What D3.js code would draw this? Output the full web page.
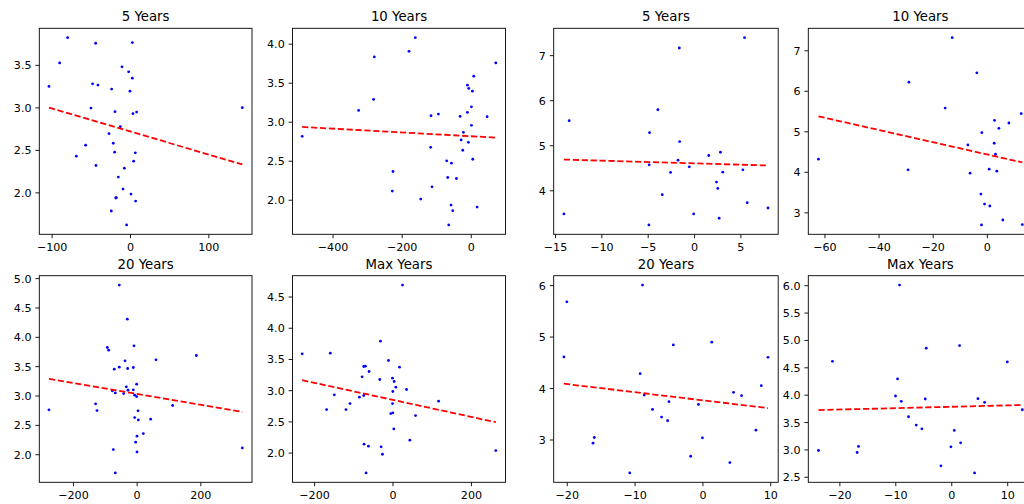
<!DOCTYPE html>
<html><head><meta charset="utf-8">
<script src="https://cdn.jsdelivr.net/npm/d3@7"></script>
<style>body{margin:0;background:#fff;overflow:hidden} svg{display:block;font-family:"DejaVu Sans",sans-serif}</style>
</head><body>
<svg id="c" width="1024" height="504"></svg>
<script>
// ---------- data ----------
const titles = ["5 Years","10 Years","5 Years","10 Years","20 Years","Max Years","20 Years","Max Years"];

const xA5 = [-103.4,-89.8,-79.6,-43.8,3.0,-10.2,-1.7,3.0,-47.7,-40.9,-23.4,0,-49.8,-19.1,3.8,8.5,143.4,-12.3,-26.8,-56.6,-21.3,-19.6,-68.5,6.8,4.7,-43.4,-7.2,-14.9,-8.9,-17.4,-18.2,1.3,7.2,-23.8,-4.3];
const yA5 = [3.246,3.523,3.82,3.754,3.762,3.477,3.418,3.344,3.277,3.262,3.215,3.191,2.992,2.949,2.926,2.945,2.996,2.773,2.691,2.555,2.578,2.473,2.426,2.465,2.367,2.316,2.285,2.18,2.039,1.938,1.934,1.98,1.898,1.781,1.617];

const xA10 = [-487.9,-324.6,-279.2,-281.2,-178.7,-160.4,-225.1,-227.1,-144.9,-115,-93.7,-116,-112.1,-69.6,-56,-66.7,-41.5,-57,-52.2,-63.8,-30.9,-9.7,-5.8,4.8,8.7,1.9,-9.7,1.9,-21.3,-28,-6.8,-23.2,5.8,18.4,47.3,72.5];
const yA10 = [2.813,3.145,3.83,3.285,3.902,4.077,2.362,2.111,2.009,3.077,3.098,2.672,2.166,2.498,2.468,2.285,2.272,1.932,1.86,1.677,3.068,3.468,3.426,3.391,3.583,3.191,3.119,2.953,2.864,2.766,2.736,2.634,2.519,1.906,3.064,3.753];

const xB5 = [-14.04,-13.47,-4.8,-3.9,-1.59,5.45,-1.55,-4.84,-1.73,-0.51,-2.53,-3.43,-4.87,-0.04,1.59,2.85,3.1,2.42,2.56,2.71,5.27,5.74,7.98];
const yB5 = [3.475,5.545,5.28,5.788,7.159,7.388,5.081,4.565,4.668,4.521,4.396,3.902,3.231,3.475,4.772,4.845,4.403,4.182,4.042,3.379,4.455,3.725,3.607];

const xB10 = [-62.2,-28.8,-29.1,-12.8,-15.4,-3.7,-7.0,-6.2,-1.85,2.84,4.44,2.72,3.2,0.86,3.7,8.15,12.7,-2.2,-0.86,1.1,5.9,-1.98,13.1];
const yB10 = [4.311,6.213,4.049,7.311,5.574,6.443,4.664,3.967,4.967,5.27,5.074,4.705,4.434,4.066,4.016,5.205,5.434,3.451,3.205,3.156,2.811,2.689,2.697];

const xA20 = [-275.4,-54.5,-29.3,-92.1,-88,-8.4,-36.6,-54.5,-70.2,-28.3,-10.5,60.7,187.4,-32.5,-27.2,-10.5,-76.4,-67,-40.8,0,-6.3,0,-128.8,-124.6,113.1,4.2,-6.3,5.2,44,20.9,1,-3.1,1,-73.3,-67,331.9];
const yA20 = [2.756,4.881,4.301,3.818,3.773,3.847,3.591,3.483,3.449,3.46,3.477,3.608,3.682,3.148,3.091,3.097,3.08,3.045,3.034,3.193,3.006,2.983,2.858,2.744,2.83,2.739,2.625,2.585,2.597,2.352,2.307,2.205,2.04,2.08,1.682,2.108];

const xAMax = [-230.3,-158.6,-148.4,-168,-118.6,-108.3,-84.4,-73.3,-77.6,-73.3,-69.1,-59.7,-30.7,-32.4,-10.2,17.9,0,4.3,8.5,0.9,35.8,0,-4.3,0.9,3.4,58.8,117.7,25.6,44.3,-72.5,-61.4,-29,-25.6,-67.4,263.5];
const yAMax = [3.582,3.593,2.925,2.69,2.69,2.786,2.888,2.915,3.214,3.379,3.385,3.299,3.785,3.171,3.475,3.369,3.192,3.139,3.048,2.979,3.011,2.786,2.626,2.637,2.38,2.594,2.824,4.683,2.199,2.135,2.103,2.092,1.974,1.675,2.033];

const xB20 = [-20.42,-19.98,-16.13,-15.94,-10.71,-8.83,-9.18,-8.58,-7.35,-6.02,-5.13,-4.93,-4.29,-1.73,-0.59,0,1.38,4.05,4.59,5.77,7.89,8.68,9.67];
const yB20 = [4.604,5.675,2.929,3.039,2.351,6.0,4.279,3.864,3.584,3.435,3.364,3.734,4.838,2.675,3.682,3.032,4.89,2.552,3.916,3.851,3.182,4.045,4.597];

const xBMax = [-23.73,-21.23,-16.82,-16.58,-9.24,-9.96,-9.6,-8.94,-7.63,-6.26,-5.25,-4.65,-4.47,-1.85,-0.06,0.54,1.67,1.49,4.17,4.77,5.96,10.02,12.7];
const yBMax = [2.98,4.61,2.944,3.054,6.002,3.976,4.287,3.878,3.597,3.444,3.377,3.921,4.849,2.7,3.048,3.347,3.121,4.897,2.571,3.927,3.86,4.598,3.725];

const fitSlope     = [-0.002707,-0.000243,-0.00604,-0.0151,-0.000925,-0.001363,-0.01575,0.00253];
const fitIntercept = [2.717,2.814,4.598,4.430,3.029,2.846,3.762,3.779];

const xTickVals = [[-100,0,100],[-400,-200,0],[-15,-10,-5,0,5],[-60,-40,-20,0],[-200,0,200],[-200,0,200],[-20,-10,0,10],[-20,-10,0,10]];
const yTickVals = [[2.0,2.5,3.0,3.5],[2.0,2.5,3.0,3.5,4.0],[4,5,6,7],[3,4,5,6,7],[2.0,2.5,3.0,3.5,4.0,4.5,5.0],[2.0,2.5,3.0,3.5,4.0,4.5],[3,4,5,6],[2.5,3.0,3.5,4.0,4.5,5.0,5.5,6.0]];
const yTickDecimals = [1,1,0,0,1,1,0,1];

const seriesX = [xA5,xA10,xB5,xB10,xA20,xAMax,xB20,xBMax];
const seriesY = [yA5,yA10,yB5,yB10,yA20,yAMax,yB20,yBMax];

// ---------- layout ----------
const cols = [[39.3,252],[292.5,505.5],[553.7,778.2],[808.3,1032.5]];
const rows = [[28.3,234.3],[275.7,482.3]];
const tickLen = 3.9, tickPad = 3.9, fs = 11.1, tfs = 13.3;

const svg = d3.select("#c");
const fmtMinus = s => s.replace("-", "\u2212");

function pad(ext){ const r = ext[1]-ext[0]; return [ext[0]-0.05*r, ext[1]+0.05*r]; }

for (let i = 0; i < 8; i++) {
  const c = cols[i % 4], r = rows[Math.floor(i / 4)];
  const xs = seriesX[i], ys = seriesY[i];
  const xExt = d3.extent(xs), yExt = d3.extent(ys);
  const x = d3.scaleLinear().domain(pad(xExt)).range([c[0], c[1]]);
  const y = d3.scaleLinear().domain(pad(yExt)).range([r[1], r[0]]);
  const g = svg.append("g");

  // points
  g.selectAll("circle").data(xs.map((v, k) => [v, ys[k]])).join("circle")
    .attr("cx", d => x(d[0])).attr("cy", d => y(d[1])).attr("r", 1.4).attr("fill", "#0000ff");

  // fit line
  const line = d3.line().x(d => x(d)).y(d => y(fitIntercept[i] + fitSlope[i] * d));
  g.append("path").attr("d", line(xExt)).attr("fill", "none")
    .attr("stroke", "#ff0000").attr("stroke-width", 1.8).attr("stroke-dasharray", "6.2,2.7");

  // x axis
  const xAxis = d3.axisBottom(x).tickValues(xTickVals[i]).tickSize(tickLen).tickPadding(tickPad)
    .tickFormat(d => fmtMinus(d3.format("d")(d)));
  const gx = g.append("g").attr("transform", `translate(0,${r[1]})`).call(xAxis);
  // y axis
  const yAxis = d3.axisLeft(y).tickValues(yTickVals[i]).tickSize(tickLen).tickPadding(tickPad)
    .tickFormat(d => fmtMinus(d3.format("." + yTickDecimals[i] + "f")(d)));
  const gy = g.append("g").attr("transform", `translate(${c[0]},0)`).call(yAxis);
  [gx, gy].forEach(a => {
    a.select(".domain").remove();
    a.selectAll(".tick line").attr("stroke", "#000").attr("stroke-width", 0.9);
    a.selectAll(".tick text").attr("fill", "#000").style("font-size", fs + "px")
      .style("font-family", '"DejaVu Sans", sans-serif');
  });
  gx.selectAll(".tick text").attr("dy", "0.76em");
  gy.selectAll(".tick text").attr("dy", "0.36em");

  // frame
  g.append("rect").attr("x", c[0]).attr("y", r[0]).attr("width", c[1] - c[0]).attr("height", r[1] - r[0])
    .attr("fill", "none").attr("stroke", "#000").attr("stroke-width", 0.9);

  // title
  g.append("text").attr("x", (c[0] + c[1]) / 2).attr("y", r[0] - 7).attr("text-anchor", "middle")
    .style("font-size", tfs + "px").attr("fill", "#000").text(titles[i]);
}
</script>
</body></html>
